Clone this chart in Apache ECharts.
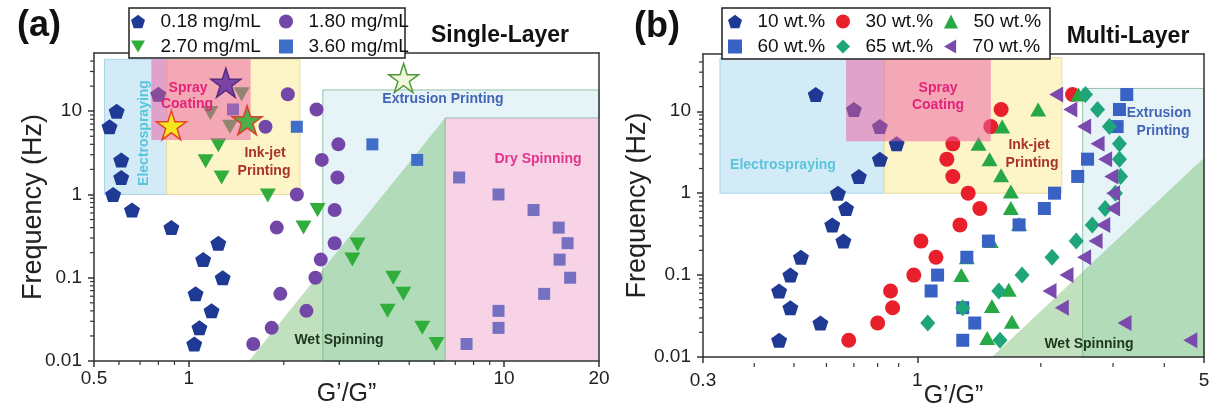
<!DOCTYPE html>
<html><head><meta charset="utf-8">
<script src="https://cdn.jsdelivr.net/npm/echarts@6/dist/echarts.min.js"></script>
<style>html,body{margin:0;padding:0;background:#fff}#c{width:1213px;height:408px}</style>
</head><body><div id="c"></div>
<script>
// ===== Panel (a) Single-Layer : [G'/G", Frequency (Hz)] =====
const a018 = [[0.59,10],[0.56,6.5],[0.80,16],[0.61,2.6],[0.61,1.6],[0.575,1.0],[0.66,0.65],[0.88,0.40],[1.24,0.26],[1.11,0.165],[1.28,0.10],[1.05,0.064],[1.18,0.04],[1.08,0.025],[1.04,0.016]];
const a180 = [[2.06,16],[2.54,10.5],[1.75,6.5],[2.98,4.0],[2.64,2.6],[2.96,1.6],[2.2,1.0],[2.9,0.65],[1.9,0.40],[2.9,0.26],[2.62,0.165],[2.52,0.10],[1.95,0.064],[2.36,0.04],[1.83,0.025],[1.6,0.016]];
const a270 = [[1.47,16],[1.17,9.5],[1.35,6.5],[1.24,3.9],[1.13,2.5],[1.27,1.6],[1.78,0.97],[2.56,0.65],[2.31,0.40],[3.43,0.25],[3.3,0.165],[4.45,0.10],[4.79,0.064],[4.27,0.04],[5.5,0.025],[6.1,0.016]];
const a360 = [[1.38,10.5],[2.2,6.5],[3.82,4.0],[5.3,2.6],[7.2,1.6],[9.6,1.0],[12.4,0.65],[14.9,0.40],[15.9,0.26],[15.0,0.165],[16.2,0.10],[13.4,0.064],[9.6,0.04],[9.6,0.025],[7.6,0.016]];
const aStars = [[0.88,6.8],[1.31,22],[1.53,7.8],[4.8,25]];

// ===== Panel (b) Multi-Layer =====
const b10 = [[0.565,16],[0.70,10.5],[0.81,6.5],[0.89,4.0],[0.81,2.6],[0.72,1.6],[0.64,1.0],[0.67,0.65],[0.62,0.41],[0.66,0.26],[0.52,0.165],[0.49,0.10],[0.46,0.064],[0.49,0.04],[0.58,0.026],[0.46,0.016]];
const b30 = [[2.39,16],[1.6,10.5],[1.51,6.5],[1.22,4.0],[1.18,2.6],[1.22,1.6],[1.33,1.0],[1.42,0.65],[1.27,0.41],[1.02,0.26],[1.11,0.165],[0.98,0.10],[0.86,0.064],[0.87,0.04],[0.80,0.026],[0.68,0.016]];
const b50 = [[2.47,16],[1.97,10.5],[1.61,6.5],[1.41,4.0],[1.5,2.6],[1.6,1.65],[1.69,1.05],[1.69,0.66],[1.77,0.42],[1.51,0.26],[1.32,0.165],[1.28,0.10],[1.67,0.066],[1.52,0.042],[1.7,0.027],[1.48,0.017]];
const b60 = [[3.24,16],[3.11,10.5],[3.07,6.5],[2.6,2.6],[2.46,1.6],[2.16,1.0],[2.04,0.65],[1.77,0.41],[1.49,0.26],[1.32,0.165],[1.12,0.10],[1.08,0.064],[1.29,0.04],[1.38,0.026],[1.29,0.016]];
const b65 = [[2.57,16],[2.75,10.5],[2.94,6.5],[3.11,4.0],[3.11,2.6],[3.13,1.6],[3.04,1.0],[2.87,0.65],[2.67,0.41],[2.44,0.26],[2.13,0.165],[1.8,0.10],[1.58,0.064],[1.29,0.04],[1.06,0.026],[1.59,0.016]];
const b70 = [[2.18,16],[2.36,10.5],[2.55,6.5],[2.75,4.0],[2.87,2.6],[2.97,1.6],[3.0,1.0],[3.0,0.65],[2.84,0.41],[2.72,0.26],[2.55,0.165],[2.31,0.10],[2.1,0.064],[2.25,0.04],[3.2,0.026],[4.63,0.016]];

// ===== Processing-window regions (vertices in data units) =====
const aElectro = [[0.54,1],[0.85,1],[0.85,42],[0.54,42]];
const aInkjet = [[0.85,1],[2.25,1],[2.25,42],[0.85,42]];
const aSpray = [[0.76,4.5],[1.57,4.5],[1.57,42],[0.76,42]];
const aExtrusion = [[2.66,0.01],[6.5,0.01],[6.5,8.3],[20,8.3],[20,18],[2.66,18]];
const aWet = [[1.55,0.01],[6.5,0.01],[6.5,8.3]];
const aDry = [[6.5,0.01],[20,0.01],[20,8.3],[6.5,8.3]];

const bElectro = [[0.33,1],[0.83,1],[0.83,45],[0.33,45]];
const bInkjet = [[0.83,1],[2.25,1],[2.25,45],[0.83,45]];
const bSpray = [[0.67,4.3],[1.51,4.3],[1.51,45],[0.67,45]];
const bExtrusion = [[2.53,0.01],[5,0.01],[5,19],[2.53,19]];
const bWet = [[1.52,0.01],[5,0.01],[5,2.7]];

// ===== Axis ticks =====
const aXRange = [0.5, 20];
const bXRange = [0.3, 5];
const yRange = [0.01, 50];
const aMinorX = [0.6,0.7,0.8,0.9,2,3,4,5,6,7,8,9];
const bMinorX = [0.4,0.5,0.6,0.7,0.8,0.9,2,3,4];
const minorYVals = [0.02,0.03,0.04,0.05,0.06,0.07,0.08,0.09,0.2,0.3,0.4,0.5,0.6,0.7,0.8,0.9,2,3,4,5,6,7,8,9,20,30,40];

// ---------- symbols ----------
const PENTA = 'path://M0,-1 L0.951,-0.309 L0.588,0.809 L-0.588,0.809 L-0.951,-0.309 Z';
const DOWNTRI = 'path://M0,0 L2,0 L1,1.732 Z';
const LEFTTRI = 'path://M0,1 L1.732,0 L1.732,2 Z';
const STAR = 'path://M0,-1 L0.2245,-0.309 L0.951,-0.309 L0.363,0.118 L0.588,0.809 L0,0.382 L-0.588,0.809 L-0.363,0.118 L-0.951,-0.309 L-0.2245,-0.309 Z';
const FONT = 'Liberation Sans, Arial, sans-serif';

function region(ai, verts, style, z) {
  return {type:'custom', xAxisIndex:ai, yAxisIndex:ai, z:z, silent:true, clip:false,
    data: verts,
    renderItem: function(p, api) {
      if (p.dataIndex !== 0) return null;
      return {type:'polygon', shape:{points: verts.map(v => api.coord(v))}, style: style};
    }};
}
function tickSeriesX(ai, vals, yBase, off) {
  return {type:'custom', xAxisIndex:ai, yAxisIndex:ai, z:12, silent:true, clip:false,
    data: vals.map(v => [v, yBase]),
    renderItem: function(p, api) {
      const c = api.coord([api.value(0), api.value(1)]);
      return {type:'line', shape:{x1:c[0], y1:c[1]+off, x2:c[0], y2:c[1]+off+4}, style:{stroke:'#333', lineWidth:1.2}};
    }};
}
function tickSeriesY(ai, vals, xBase) {
  return {type:'custom', xAxisIndex:ai, yAxisIndex:ai, z:12, silent:true, clip:false,
    data: vals.map(v => [xBase, v]),
    renderItem: function(p, api) {
      const c = api.coord([api.value(0), api.value(1)]);
      return {type:'line', shape:{x1:c[0], y1:c[1], x2:c[0]-4, y2:c[1]}, style:{stroke:'#333', lineWidth:1.2}};
    }};
}
function pts(name, ai, data, symbol, size, color) {
  return {name:name, type:'scatter', xAxisIndex:ai, yAxisIndex:ai, data:data, symbol:symbol,
    symbolSize:size, itemStyle:{color:color, opacity:1}, z:3, silent:true};
}
const starStylesA = [
  {color:'#f6e71d', borderColor:'#e0472b'},
  {color:'#7b43a3', borderColor:'#5a2c80'},
  {color:'#4eae48', borderColor:'#d8432c'},
  {color:'#f2f7dc', borderColor:'#4f9a3c'}
];

const axisLineStyle = {color:'#333', width:1.5};
function logX(gi, range, off) {
  return {type:'log', logBase:10, gridIndex:gi, min:range[0], max:range[1], offset:off, z:10,
    axisLine:{show:true, lineStyle:axisLineStyle},
    axisTick:{show:true, length:6, lineStyle:{color:'#333', width:1.5}},
    axisLabel:{fontSize:19, color:'#222', margin:8, fontFamily:FONT, showMinLabel:true, showMaxLabel:true},
    splitLine:{show:false},
    name:'G’/G”', nameLocation:'middle', nameGap:21, nameMoveOverlap:false,
    nameTextStyle:{fontSize:25, color:'#222', fontFamily:FONT}};
}
function logY(gi, gap) {
  return {type:'log', logBase:10, gridIndex:gi, min:yRange[0], max:yRange[1], z:10,
    axisLine:{show:true, lineStyle:axisLineStyle},
    axisTick:{show:true, length:6, lineStyle:{color:'#333', width:1.5}},
    axisLabel:{fontSize:19, color:'#222', margin:12, fontFamily:FONT, showMaxLabel:false},
    splitLine:{show:false},
    name:'Frequency (Hz)', nameLocation:'middle', nameGap:gap, nameMoveOverlap:false,
    nameTextStyle:{fontSize:27, color:'#222', fontFamily:FONT}};
}
function frame(gi, pos) {
  return {type:'value', gridIndex:gi, position:pos, min:0, max:1, z:10,
    axisLine:{show:true, onZero:false, lineStyle:axisLineStyle}, axisTick:{show:false},
    axisLabel:{show:false}, splitLine:{show:false}};
}

const fillElectro = {fill:'#d3ebf7', stroke:'#a8d4ea', lineWidth:1};
const fillInk = {fill:'#fdf4c8', stroke:'#e8dc9c', lineWidth:1};
const fillExtr = {fill:'#e6f4f8', stroke:'#93c2ab', lineWidth:1};
const fillWet = {fill:'rgba(108,184,100,0.42)'};
const fillSpray = {fill:'rgba(236,96,162,0.52)'};
const fillDry = {fill:'rgba(232,118,176,0.32)'};

function label(text, x, y, color, size, rot, weight) {
  return {type:'text', x:x, y:y, rotation:rot||0, z:100,
    style:{text:text, fill:color, font:(weight||'bold')+' '+size+'px '+FONT, align:'center', verticalAlign:'middle'}};
}

const option = {
  animation:false,
  backgroundColor:'#fff',
  grid:[
    {left:94, top:53, width:505, height:308, outerBoundsMode:'none', containLabel:false},
    {left:703, top:54, width:501, height:303, outerBoundsMode:'none', containLabel:false}
  ],
  xAxis:[logX(0, aXRange, 0), frame(0,'top'), logX(1, bXRange, 6), frame(1,'top')],
  yAxis:[logY(0, 47), frame(0,'right'), logY(1, 52), frame(1,'right')],
  legend:[
    {data:['0.18 mg/mL','1.80 mg/mL','2.70 mg/mL','3.60 mg/mL'], left:131, top:12, width:300, padding:0,
     itemWidth:14, itemHeight:14, itemGap:6, selectedMode:false, z:20,
     formatter: n => '  ' + n,
     textStyle:{fontSize:19, lineHeight:19, color:'#111', width:123, fontFamily:FONT}},
    {data:['10 wt.%','30 wt.%','50 wt.%','60 wt.%','65 wt.%','70 wt.%'], left:728, top:12, width:330, padding:0,
     itemWidth:14, itemHeight:14, itemGap:6, selectedMode:false, z:20,
     formatter: n => '  ' + n,
     textStyle:{fontSize:19, lineHeight:19, color:'#111', width:83, fontFamily:FONT}}
  ],
  graphic:[
    {type:'rect', shape:{x:129, y:8, width:276, height:50}, style:{fill:'#fff', stroke:'#222', lineWidth:1.5}, z:15},
    {type:'rect', shape:{x:722, y:8, width:328, height:51}, style:{fill:'#fff', stroke:'#222', lineWidth:1.5}, z:15},
    label('(a)', 39, 26, '#111', 36),
    label('Single-Layer', 500, 36, '#111', 23),
    label('(b)', 657, 27, '#111', 36),
    label('Multi-Layer', 1128, 37, '#111', 23),
    label('Spray', 188, 88, '#e3247a', 14),
    label('Coating', 187, 104, '#e3247a', 14),
    label('Electrospraying', 144, 133, '#5ac4dd', 14, Math.PI/2),
    label('Ink-jet', 265, 153, '#a8332a', 14),
    label('Printing', 264, 171, '#a8332a', 14),
    label('Extrusion Printing', 443, 99, '#4365b6', 14),
    label('Dry Spinning', 538, 159, '#e0358b', 14),
    label('Wet Spinning', 339, 340, '#1d351d', 14),
    label('Spray', 938, 88, '#e3247a', 14),
    label('Coating', 938, 105, '#e3247a', 14),
    label('Electrospraying', 783, 165, '#5ac4dd', 14),
    label('Ink-jet', 1029, 145, '#a8332a', 14),
    label('Printing', 1032, 163, '#a8332a', 14),
    label('Extrusion', 1159, 113, '#4365b6', 14),
    label('Printing', 1163, 131, '#4365b6', 14),
    label('Wet Spinning', 1089, 344, '#1d351d', 14)
  ],
  series:[
    region(0, aElectro, fillElectro, 1),
    region(0, aInkjet, fillInk, 1),
    region(0, aExtrusion, fillExtr, 1),
    region(0, aWet, fillWet, 2),
    pts('0.18 mg/mL', 0, a018, PENTA, [16,15], '#1f3a94'),
    pts('1.80 mg/mL', 0, a180, 'circle', 14, '#7347a8'),
    pts('2.70 mg/mL', 0, a270, DOWNTRI, [16,14], '#30ad3a'),
    pts('3.60 mg/mL', 0, a360, 'rect', 12, '#3f6ec8'),
    region(0, aSpray, fillSpray, 4),
    region(0, aDry, fillDry, 4),
    {type:'scatter', xAxisIndex:0, yAxisIndex:0, z:5, silent:true, symbol:STAR, symbolSize:[30,29],
     data: aStars.map((d,i) => ({value:d, itemStyle:Object.assign({borderWidth:1.5, opacity:1}, starStylesA[i])}))},
    tickSeriesX(0, aMinorX, yRange[0], 0),
    tickSeriesY(0, minorYVals, aXRange[0]),

    region(2, bElectro, fillElectro, 1),
    region(2, bInkjet, fillInk, 1),
    region(2, bExtrusion, fillExtr, 1),
    region(2, bWet, fillWet, 2),
    pts('10 wt.%', 2, b10, PENTA, [16,15], '#1f3a94'),
    pts('30 wt.%', 2, b30, 'circle', 15, '#e8202b'),
    pts('50 wt.%', 2, b50, 'triangle', [16,14], '#26a845'),
    pts('60 wt.%', 2, b60, 'rect', 13, '#3862c4'),
    pts('65 wt.%', 2, b65, 'diamond', [15,17], '#1ea57a'),
    pts('70 wt.%', 2, b70, LEFTTRI, [14,16], '#7a4aae'),
    region(2, bSpray, fillSpray, 4),
    tickSeriesX(2, bMinorX, yRange[0], 6),
    tickSeriesY(2, minorYVals, bXRange[0])
  ]
};
const chart = echarts.init(document.getElementById('c'), null, {renderer:'canvas'});
chart.setOption(option);
</script>
</body></html>
